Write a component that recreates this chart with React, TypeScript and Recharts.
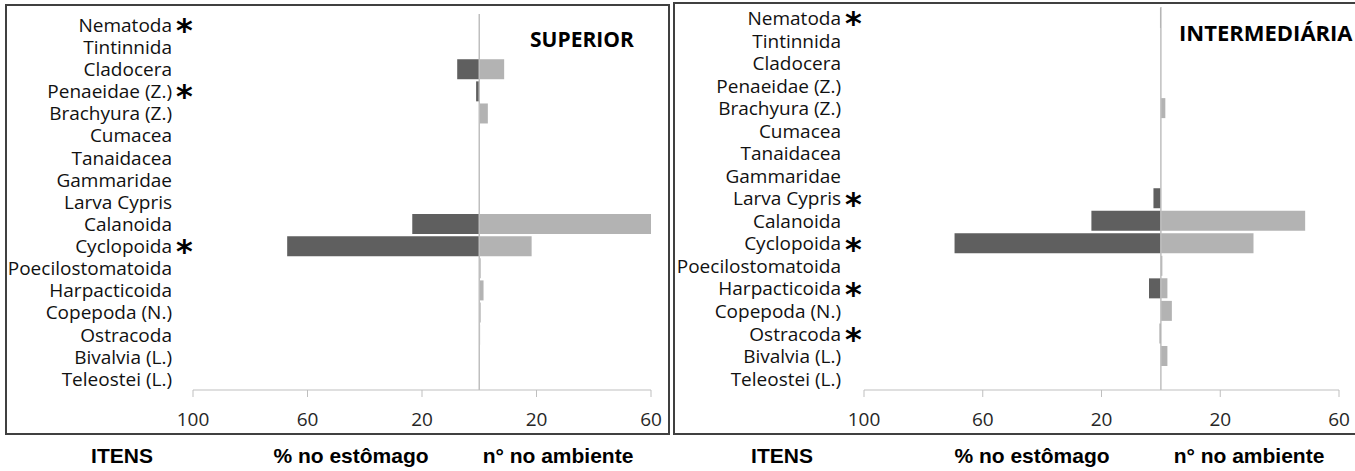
import React from 'react';
import { BarChart, Bar, XAxis, YAxis, ReferenceLine } from 'recharts';

// diet items, top to bottom
const categories = [
  'Nematoda',
  'Tintinnida',
  'Cladocera',
  'Penaeidae (Z.)',
  'Brachyura (Z.)',
  'Cumacea',
  'Tanaidacea',
  'Gammaridae',
  'Larva Cypris',
  'Calanoida',
  'Cyclopoida',
  'Poecilostomatoida',
  'Harpacticoida',
  'Copepoda (N.)',
  'Ostracoda',
  'Bivalvia (L.)',
  'Teleostei (L.)',
];

// SUPERIOR: % in stomach (drawn to the left) and n° in environment (to the right)
const superiorStomach = [0, 0, 7.7, 1.1, 0, 0, 0, 0, 0, 23.4, 67.1, 0, 0, 0, 0, 0, 0];
const superiorAmbient = [0, 0, 8.7, 0, 3.0, 0, 0, 0, 0, 60.2, 18.3, 0.5, 1.5, 0.5, 0.3, 0, 0];
const superiorMarked = ['Nematoda', 'Penaeidae (Z.)', 'Cyclopoida'];

// INTERMEDIÁRIA
const intermStomach = [0.3, 0, 0, 0, 0, 0, 0, 0, 2.5, 23.4, 69.5, 0, 4.0, 0, 0.4, 0, 0];
const intermAmbient = [0, 0, 0, 0, 1.5, 0, 0, 0, 0, 48.6, 31.2, 0.5, 2.2, 3.7, 0, 2.2, 0];
const intermMarked = ['Nematoda', 'Larva Cypris', 'Cyclopoida', 'Harpacticoida', 'Ostracoda'];

const axisTicks = [-100, -60, -20, 20, 60];
const footerLabels = ['ITENS', '% no estômago', 'n° no ambiente'];

const DARK = '#5f5f5f';
const LIGHT = '#b3b3b3';
const GRID = '#bfbfbf';
const FONT = '"Open Sans", sans-serif';

function buildRows(stomach: number[], ambient: number[]) {
  return categories.map((name, i) => ({ name, stomach: -stomach[i], ambient: ambient[i] }));
}

function CategoryTick(props: any) {
  const { x, y, payload, marked } = props;
  const star = marked.includes(payload.value);
  return (
    <g>
      <text x={x} y={y} dy="0.36em" textAnchor="end" fontFamily={FONT} fontSize={19} fill="#111">
        {payload.value}
      </text>
      {star && (
        <text x={x + 4} y={y} dy="0.5em" fontFamily="DejaVu Sans" fontWeight="bold" fontSize={32} fill="#000">
          *
        </text>
      )}
    </g>
  );
}

interface PanelProps {
  left: number;
  width: number;
  marginTop: number;
  marginRight: number;
  yWidth: number;
  labelGap: number;
  stomach: number[];
  ambient: number[];
  marked: string[];
}

function Panel({ left, width, marginTop, marginRight, yWidth, labelGap, stomach, ambient, marked }: PanelProps) {
  const rows = buildRows(stomach, ambient);
  return (
    <div style={{ position: 'absolute', left, top: 0 }}>
      <BarChart
        width={width}
        height={440}
        data={rows}
        layout="vertical"
        stackOffset="sign"
        barSize={20}
        margin={{ top: marginTop, right: marginRight, bottom: 0, left: 0 }}
      >
        <XAxis
          type="number"
          domain={[-100, 60]}
          ticks={axisTicks}
          interval={0}
          allowDataOverflow
          height={50}
          tickSize={7}
          tickMargin={16}
          axisLine={{ stroke: GRID }}
          tickLine={{ stroke: GRID }}
          tick={{ fill: '#262626', fontSize: 19, fontFamily: FONT }}
          tickFormatter={(v: number) => String(Math.abs(v))}
        />
        <YAxis
          type="category"
          dataKey="name"
          width={yWidth}
          interval={0}
          axisLine={false}
          tickLine={false}
          tickSize={0}
          tickMargin={labelGap}
          tick={(p: any) => <CategoryTick {...p} marked={marked} />}
        />
        <Bar dataKey="stomach" stackId="a" fill={DARK} isAnimationActive={false} />
        <Bar dataKey="ambient" stackId="a" fill={LIGHT} isAnimationActive={false} />
        <ReferenceLine x={0} stroke={GRID} strokeWidth={1.5} />
      </BarChart>
    </div>
  );
}

const titleStyle: React.CSSProperties = {
  position: 'absolute',
  fontFamily: FONT,
  fontWeight: 700,
  fontSize: 21,
  lineHeight: 1,
  color: '#000',
  whiteSpace: 'nowrap',
};

const footerStyle: React.CSSProperties = {
  position: 'absolute',
  top: 445,
  width: 220,
  textAlign: 'center',
  fontFamily: '"Liberation Sans", Arial, sans-serif',
  fontWeight: 700,
  fontSize: 21,
  lineHeight: 1,
  color: '#000',
  whiteSpace: 'nowrap',
};

const footerCenters = [122, 351, 558, 782, 1032, 1249];

export default function App() {
  return (
    <div style={{ position: 'relative', width: 1355, height: 471, overflow: 'hidden', background: '#fff' }}>
      <style>{'body{margin:0}'}</style>
      <div
        style={{
          position: 'absolute',
          left: 5,
          top: 4,
          width: 665,
          height: 431,
          border: '2px solid #404040',
          boxSizing: 'border-box',
        }}
      />
      <div
        style={{
          position: 'absolute',
          left: 673,
          top: 2,
          width: 720,
          height: 433,
          border: '2px solid #404040',
          boxSizing: 'border-box',
        }}
      />
      <Panel
        left={0}
        width={680}
        marginTop={14}
        marginRight={29}
        yWidth={193}
        labelGap={21}
        stomach={superiorStomach}
        ambient={superiorAmbient}
        marked={superiorMarked}
      />
      <Panel
        left={670}
        width={685}
        marginTop={7}
        marginRight={16}
        yWidth={194}
        labelGap={23}
        stomach={intermStomach}
        ambient={intermAmbient}
        marked={intermMarked}
      />
      <div style={{ ...titleStyle, left: 530, top: 29 }}>SUPERIOR</div>
      <div style={{ ...titleStyle, left: 1179, top: 21, fontSize: 22 }}>INTERMEDIÁRIA</div>
      {footerCenters.map((cx, i) => (
        <div key={i} style={{ ...footerStyle, left: cx - 110 }}>
          {footerLabels[i % 3]}
        </div>
      ))}
    </div>
  );
}
